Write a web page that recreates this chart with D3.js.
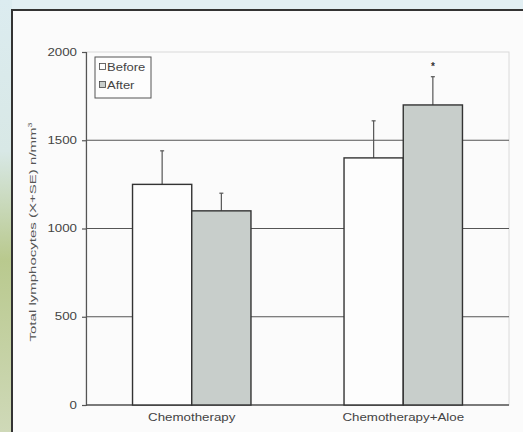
<!DOCTYPE html>
<html><head><meta charset="utf-8">
<script src="https://cdn.jsdelivr.net/npm/d3@7"></script>
<style>html,body{margin:0;padding:0;background:#e2eff3;}svg{display:block;}</style>
</head><body>
<svg id="c" width="523" height="432"></svg>
<script>
const categories = ["Chemotherapy", "Chemotherapy+Aloe"];
const series = ["Before", "After"];
const beforeValues = [1250, 1400];
const afterValues = [1100, 1700];
const beforeErr = [190, 210];
const afterErr = [100, 160];
const significant = [false, true]; // asterisk on "After"
const yTicks = [0, 500, 1000, 1500, 2000];

(function(){
const svg = d3.select("#c");
const W = 523, H = 432;
const FONT = "Liberation Sans, Arial, sans-serif";
const STRETCH = 1.33;
function stretch(sel, k) {
  sel.each(function(){
    const n = this.getComputedTextLength();
    d3.select(this).attr("textLength", n*(k||STRETCH)).attr("lengthAdjust","spacingAndGlyphs");
  });
}

const defs = svg.append("defs");
const lg = defs.append("linearGradient").attr("id","g1").attr("x1","0").attr("y1","0").attr("x2","0").attr("y2","1");
lg.append("stop").attr("offset","0").attr("stop-color","#dcecf0");
lg.append("stop").attr("offset","0.35").attr("stop-color","#d8e8e6");
lg.append("stop").attr("offset","0.6").attr("stop-color","#b9c98e");
lg.append("stop").attr("offset","1").attr("stop-color","#cfd9b8");
svg.append("rect").attr("width",W).attr("height",H).attr("fill","#e2eff3");
svg.append("rect").attr("x",0).attr("y",0).attr("width",12).attr("height",H).attr("fill","url(#g1)");
svg.append("rect").attr("x",12).attr("y",10).attr("width",W).attr("height",H).attr("fill","#fbfbfb").attr("stroke","#333").attr("stroke-width",2);

const pL = 86, pR = 509, pT = 52, pB = 405;
const y = d3.scaleLinear().domain([0, 2000]).range([pB, pT]);
const x0 = d3.scaleBand().domain(categories).range([pL, pR]).paddingInner(0.44).paddingOuter(0.22);
const x1 = d3.scaleBand().domain(series).range([0, x0.bandwidth()]).padding(0);

svg.append("rect").attr("x",pL).attr("y",pT).attr("width",pR-pL).attr("height",pB-pT)
  .attr("fill","none").attr("stroke","#dadada").attr("stroke-width",1);

svg.append("g").selectAll("line").data(yTicks.filter(d=>d>0 && d<2000)).join("line")
  .attr("x1",pL).attr("x2",pR).attr("y1",d=>y(d)).attr("y2",d=>y(d))
  .attr("stroke","#555").attr("stroke-width",1.2);

const yAxis = d3.axisLeft(y).tickValues(yTicks).tickSize(4).tickPadding(5).tickFormat(d3.format("d"));
const ga = svg.append("g").attr("transform",`translate(${pL},0)`).call(yAxis);
ga.select(".domain").attr("stroke","#555").attr("stroke-width",1.2);
ga.selectAll(".tick line").attr("stroke","#555").attr("stroke-width",1.2);
ga.selectAll("text").attr("font-family",FONT).attr("font-size",10).attr("fill","#444");
stretch(ga.selectAll("text"));

svg.append("line").attr("x1",pL).attr("x2",pR).attr("y1",pB).attr("y2",pB).attr("stroke","#555").attr("stroke-width",1.5);

const rows = categories.map((c,i)=>[
  {cat:c, s:"Before", v:beforeValues[i], e:beforeErr[i], sig:false},
  {cat:c, s:"After", v:afterValues[i], e:afterErr[i], sig:significant[i]}
]).flat();
const fill = {Before:"#fdfdfd", After:"#c8cecb"};

const bars = svg.append("g");
rows.forEach(d=>{
  const cx = x0(d.cat)+x1(d.s)+x1.bandwidth()/2;
  bars.append("line").attr("x1",cx).attr("x2",cx).attr("y1",y(d.v)).attr("y2",y(d.v+d.e)).attr("stroke","#555").attr("stroke-width",1.2);
  bars.append("line").attr("x1",cx-2).attr("x2",cx+2).attr("y1",y(d.v+d.e)).attr("y2",y(d.v+d.e)).attr("stroke","#555").attr("stroke-width",1.2);
  if (d.sig) {
    bars.append("text").attr("x",cx).attr("y",y(d.v+d.e)-7).attr("text-anchor","middle")
      .attr("font-family",FONT).attr("font-size",10).attr("font-weight","bold").attr("fill","#333").text("*");
  }
});
bars.selectAll("rect").data(rows).join("rect")
  .attr("x",d=>x0(d.cat)+x1(d.s)).attr("width",x1.bandwidth())
  .attr("y",d=>y(d.v)).attr("height",d=>pB-y(d.v))
  .attr("fill",d=>fill[d.s]).attr("stroke","#333").attr("stroke-width",1.4);

const xl = svg.append("g").selectAll("text").data(categories).join("text")
  .attr("x",d=>x0(d)+x0.bandwidth()/2).attr("y",421).attr("text-anchor","middle")
  .attr("font-family",FONT).attr("font-size",10).attr("fill","#444").text(d=>d);
stretch(xl);

const yt = svg.append("text").attr("transform",`translate(35.5,232) rotate(-90)`).attr("text-anchor","middle")
  .attr("font-family",FONT).attr("font-size",8.5).attr("fill","#555")
  .attr("textLength",219).attr("lengthAdjust","spacingAndGlyphs");
yt.append("tspan").text("Total lymphocytes (X+SE) n/mm");
yt.append("tspan").attr("font-size",5).attr("dy",-4).text("3");

const lgd = svg.append("g").attr("transform","translate(95,57)");
lgd.append("rect").attr("width",56).attr("height",41).attr("fill","#fdfdfd").attr("stroke","#555").attr("stroke-width",1);
series.forEach((s,i)=>{
  const gy = 13 + i*18;
  lgd.append("rect").attr("x",4.5).attr("y",gy-6.5).attr("width",6).attr("height",6).attr("fill",fill[s]).attr("stroke","#444").attr("stroke-width",0.8);
  const t = lgd.append("text").attr("x",12).attr("y",gy+0.5).attr("font-family",FONT).attr("font-size",10).attr("fill","#444").text(s);
  stretch(t, 1.3);
});
})();
</script>
</body></html>
